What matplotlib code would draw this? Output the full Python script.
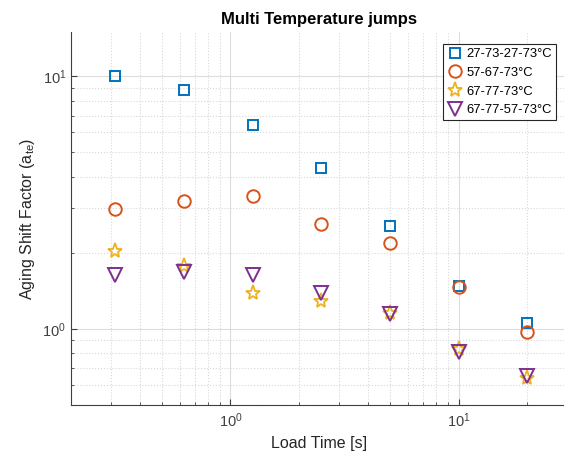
import matplotlib
matplotlib.use("Agg")
import matplotlib.pyplot as plt

# data
load_time = [0.3125, 0.625, 1.25, 2.5, 5, 10, 20]
jump_27_73 = [10.0, 8.8, 6.4, 4.35, 2.56, 1.48, 1.06]
jump_57_67 = [2.98, 3.22, 3.35, 2.61, 2.19, 1.46, 0.97]
jump_67_77 = [2.03, 1.78, 1.39, 1.29, 1.16, 0.83, 0.64]
jump_67_77_57 = [1.64, 1.68, 1.64, 1.39, 1.15, 0.81, 0.65]
labels = ["27-73-27-73°C", "57-67-73°C", "67-77-73°C", "67-77-57-73°C"]

plt.rcParams["font.family"] = ["Liberation Sans", "DejaVu Sans"]
plt.rcParams["mathtext.fontset"] = "custom"
plt.rcParams["mathtext.rm"] = "Liberation Sans"
plt.rcParams["mathtext.it"] = "Liberation Sans:italic"

fig = plt.figure(figsize=(5.64, 4.57), dpi=100)
ax = fig.add_axes([0.126, 0.114, 0.88, 0.816])

ax.plot(load_time, jump_27_73, "s", color="#0072BD", mfc="none", ms=6.5, mew=1.4, label=labels[0])
ax.plot(load_time, jump_57_67, "o", color="#D95319", mfc="none", ms=9, mew=1.4, label=labels[1])
ax.plot(load_time, jump_67_77, "*", color="#EDB120", mfc="none", ms=11, mew=1.3, label=labels[2])
ax.plot(load_time, jump_67_77_57, "v", color="#7E2F8E", mfc="none", ms=9.5, mew=1.4, label=labels[3])

ax.set_xscale("log")
ax.set_yscale("log")
ax.set_xlim(0.2, 30)
ax.set_ylim(0.5, 15)

ax.grid(True, which="major", color="#dcdcdc", linestyle="-", linewidth=0.8)
ax.grid(True, which="minor", color="#d8d8d8", linestyle=":", linewidth=0.8)
ax.set_axisbelow(True)

for s in ["top", "right"]:
    ax.spines[s].set_visible(False)
for s in ["left", "bottom"]:
    ax.spines[s].set_color("#404040")
ax.tick_params(which="both", direction="in", colors="#404040", labelsize=10.5)
ax.tick_params(which="major", length=4)
ax.tick_params(which="minor", length=2)
ax.tick_params(axis="x", pad=5)

ax.set_xlabel("Load Time [s]", fontsize=11.5, color="#262626")
ax.set_ylabel(r"Aging Shift Factor (a$_{\mathrm{te}}$)", fontsize=11.5, color="#262626")
ax.set_title("Multi Temperature jumps", fontsize=12, fontweight="bold")

leg = ax.legend(loc="upper right", bbox_to_anchor=(0.99, 0.985), fontsize=9.4,
                fancybox=False, framealpha=1, edgecolor="#262626",
                handletextpad=0.2, handlelength=1.3, borderpad=0.3, labelspacing=0.5)
leg.get_frame().set_linewidth(0.8)

fig.savefig("out.png", dpi=100)
